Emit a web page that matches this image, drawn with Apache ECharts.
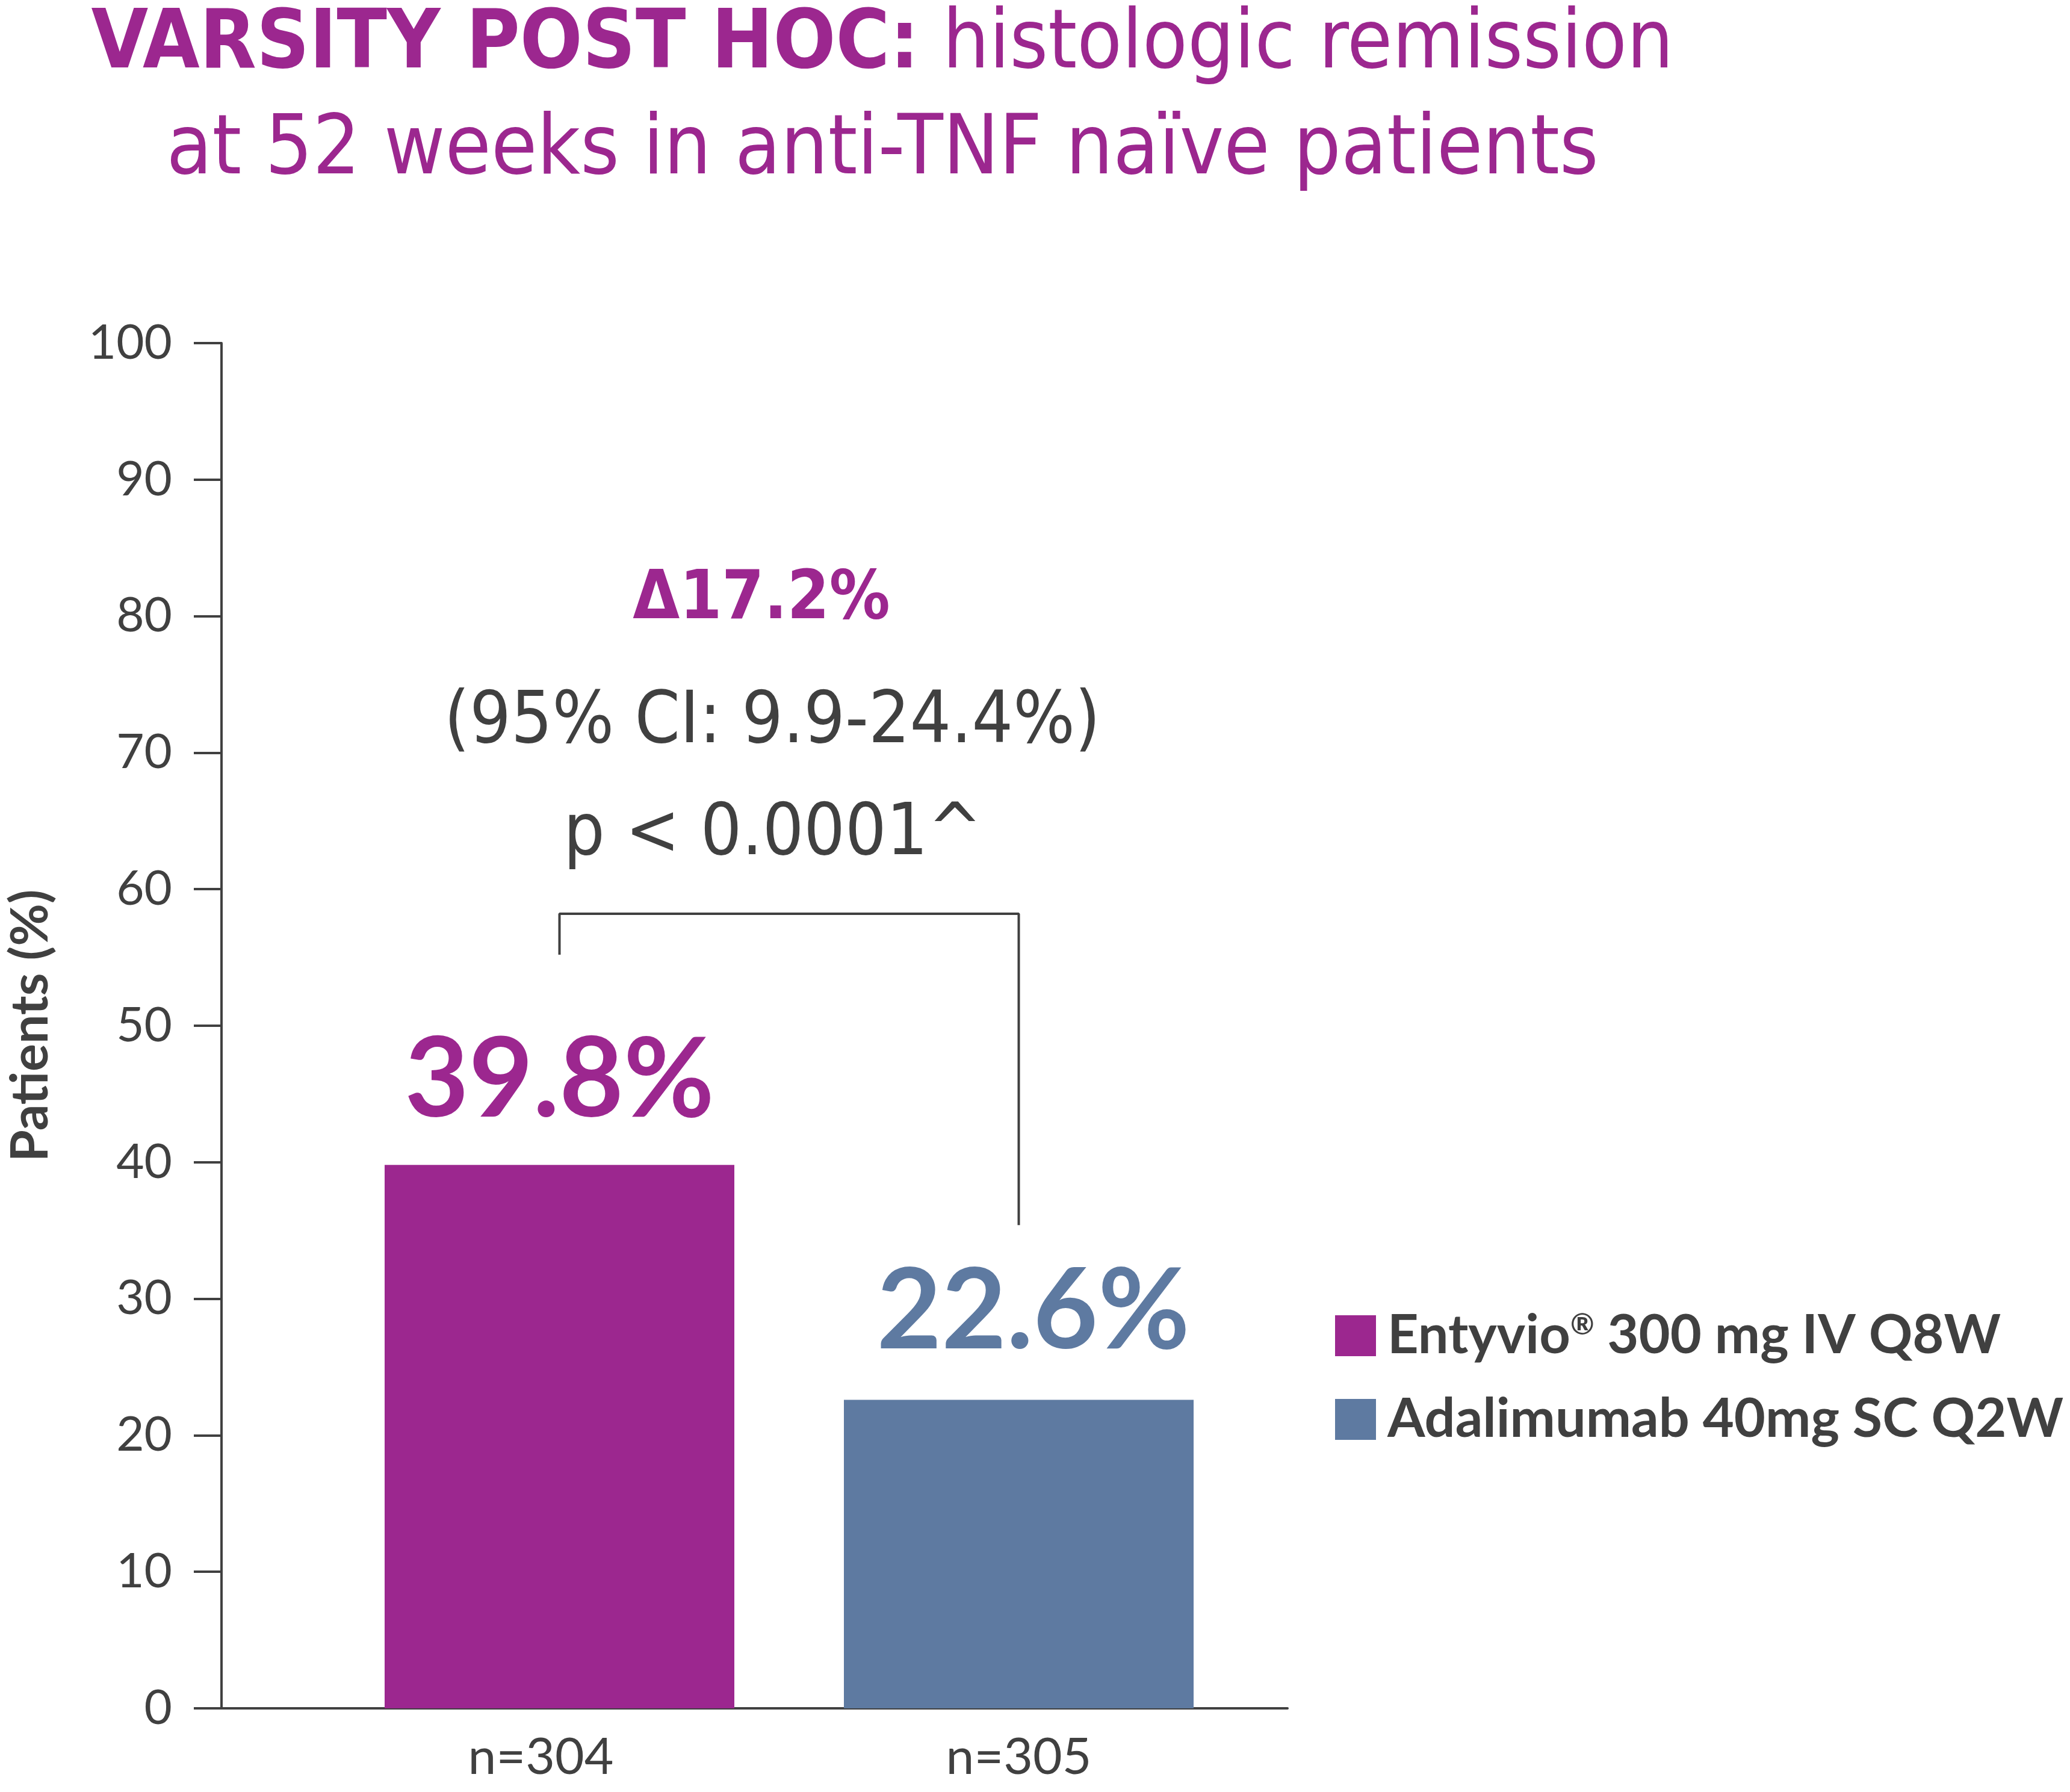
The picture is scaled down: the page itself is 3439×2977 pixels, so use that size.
<!DOCTYPE html>
<html><head><meta charset="utf-8">
<script src="https://cdn.jsdelivr.net/npm/echarts@6/dist/echarts.min.js"></script>
<style>html,body{margin:0;padding:0;background:#fff}#c{width:3439px;height:2977px}</style>
</head><body><div id="c"></div>
<script>
// ---- data ----
const categories = ['n=304', 'n=305'];
const seriesNames = ['Entyvio® 300 mg IV Q8W', 'Adalimumab 40mg SC Q2W'];
const entyvioValues = [39.8, '-'];
const adalimumabValues = ['-', 22.6];
const yMin = 0, yMax = 100, yInterval = 10;
const yAxisName = 'Patients (%)';
const titleBold = 'VARSITY POST HOC:';
const titleRest = ' histologic remission';
const titleLine2 = 'at 52 weeks in anti-TNF naïve patients';
const deltaText = 'Δ17.2%';
const ciText = '(95% CI: 9.9-24.4%)';
const pText = 'p < 0.0001^';
const bracketLeftLow = 55.2, bracketTop = 58.2, bracketRightLow = 35.4;

// ---- style ----
const PURPLE = '#9C278F', BLUE = '#5E7AA1', GRAY = '#404040';
const TITLE_FONT = '"DejaVu Sans Condensed", Lato, sans-serif';
const FONT = 'Lato, "Open Sans", sans-serif';

const chart = echarts.init(document.getElementById('c'));
const bracketData = [[0, bracketLeftLow], [0, bracketTop], [1, bracketTop], [1, bracketRightLow]];

chart.setOption({
  backgroundColor: '#fff',
  animation: false,
  title: [
    { left: 1461, top: 4, textAlign: 'center',
      text: '{b|' + titleBold + '}{r|' + titleRest + '}',
      textStyle: { rich: {
        b: { fontFamily: TITLE_FONT, fontWeight: 'bold', fontSize: 136, color: PURPLE },
        r: { fontFamily: TITLE_FONT, fontWeight: 'normal', fontSize: 136, color: PURPLE } } } },
    { left: 1461, top: 178, textAlign: 'center', text: titleLine2,
      textStyle: { fontFamily: TITLE_FONT, fontWeight: 'normal', fontSize: 138, color: PURPLE } }
  ],
  legend: {
    orient: 'vertical', left: 2213, top: 2169,
    itemWidth: 68, itemHeight: 68, itemGap: 49, icon: 'rect',
    data: seriesNames,
    formatter: function (n) { return n.replace('®', '{sup|®}'); },
    textStyle: { fontFamily: FONT, fontWeight: 'bold', fontSize: 90, color: GRAY, padding: [0, 0, 0, 14],
      rich: { sup: { fontFamily: FONT, fontSize: 48, color: GRAY, padding: [0, 0, 34, 0] } } }
  },
  grid: [
    { left: 368, top: 570, width: 1771, height: 2268, outerBoundsMode: 'none', containLabel: false },
    { left: 548, top: 570, width: 1526, height: 2268, outerBoundsMode: 'none', containLabel: false }
  ],
  xAxis: [
    { gridIndex: 0, type: 'category', data: categories,
      axisLine: { lineStyle: { color: GRAY, width: 4 } }, axisTick: { show: false }, axisLabel: { show: false } },
    { gridIndex: 1, type: 'category', data: categories,
      axisLine: { show: false }, axisTick: { show: false },
      axisLabel: { fontFamily: FONT, fontSize: 84, color: GRAY, margin: 40,
        formatter: function (v, i) { return i === 0 ? '{a|' + v + '}' : '{b|' + v + '}'; },
        rich: { a: { fontFamily: FONT, fontSize: 84, color: GRAY, padding: [0, 62, 0, 0] },
                b: { fontFamily: FONT, fontSize: 84, color: GRAY } } } }
  ],
  yAxis: [
    { gridIndex: 0, type: 'value', min: yMin, max: yMax, interval: yInterval,
      name: yAxisName, nameLocation: 'middle', nameGap: 274,
      nameTextStyle: { fontFamily: FONT, fontWeight: 'bold', fontSize: 86, color: GRAY },
      axisLine: { show: true, lineStyle: { color: GRAY, width: 4 } },
      axisTick: { show: true, length: 46, lineStyle: { color: GRAY, width: 4 } },
      splitLine: { show: false },
      axisLabel: { fontFamily: FONT, fontSize: 80, color: GRAY, margin: 82 } },
    { gridIndex: 1, type: 'value', min: yMin, max: yMax, interval: yInterval, show: false,
      splitLine: { show: false } }
  ],
  series: [
    { name: seriesNames[0], type: 'bar', xAxisIndex: 1, yAxisIndex: 1, data: entyvioValues,
      barWidth: 581, barGap: '-100%', itemStyle: { color: PURPLE },
      label: { show: true, position: 'top', distance: 48, formatter: p => p.value + '%',
        fontFamily: FONT, fontWeight: 'bold', fontSize: 184, color: PURPLE } },
    { name: seriesNames[1], type: 'bar', xAxisIndex: 1, yAxisIndex: 1, data: adalimumabValues,
      barWidth: 581, barGap: '-100%', itemStyle: { color: BLUE },
      label: { show: true, position: 'top', distance: 52, offset: [24, 0], formatter: p => p.value + '%',
        fontFamily: FONT, fontWeight: 'bold', fontSize: 186, color: BLUE } },
    { type: 'line', xAxisIndex: 1, yAxisIndex: 1, data: bracketData, symbol: 'none',
      lineStyle: { color: GRAY, width: 4 }, silent: true, z: 1 }
  ],
  graphic: [
    { type: 'text', x: 1265, y: 998, style: { text: deltaText, textAlign: 'center', textVerticalAlign: 'middle',
      fontFamily: TITLE_FONT, fontWeight: 'bold', fontSize: 112, fill: PURPLE } },
    { type: 'text', x: 1283, y: 1202, style: { text: ciText, textAlign: 'center', textVerticalAlign: 'middle',
      fontFamily: TITLE_FONT, fontWeight: 'normal', fontSize: 120, fill: GRAY } },
    { type: 'text', x: 1284, y: 1388, style: { text: pText, textAlign: 'center', textVerticalAlign: 'middle',
      fontFamily: TITLE_FONT, fontWeight: 'normal', fontSize: 120, fill: GRAY } }
  ]
});
</script></body></html>
